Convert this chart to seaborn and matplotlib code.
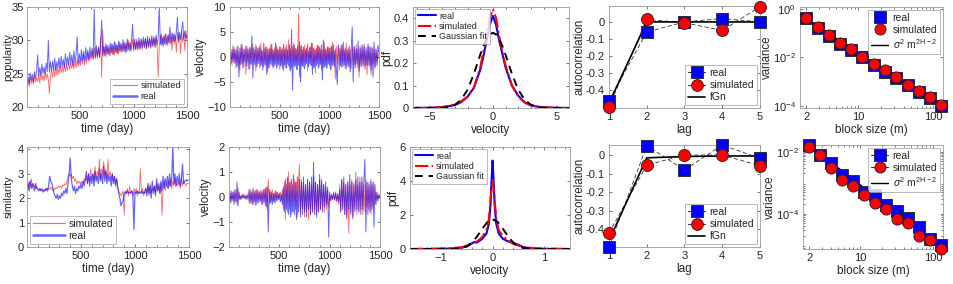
import numpy as np
import seaborn as sns
import matplotlib.pyplot as plt
from matplotlib.lines import Line2D
from matplotlib.ticker import AutoMinorLocator, LogLocator, NullFormatter

sns.set_style("ticks")
plt.rcParams['font.family'] = ['Liberation Sans', 'DejaVu Sans']
plt.rcParams['mathtext.fontset'] = 'custom'
plt.rcParams['mathtext.rm'] = 'Liberation Sans'
plt.rcParams['mathtext.it'] = 'Liberation Sans:italic'

# ---------------- data (one value every 10 days) ----------------
pop_real = [23.6, 24.6, 23.4, 25.1, 24.0, 24.9, 23.8, 25.3, 24.3, 25.4,
            27.8, 24.6, 25.9, 24.8, 26.4, 25.0, 26.0, 24.9, 26.6, 25.3,
            30.0, 25.2, 26.8, 25.4, 26.9, 25.6, 27.3, 25.5, 26.8, 25.9,
            27.4, 25.8, 27.6, 26.0, 27.2, 25.9, 28.0, 26.2, 27.5, 26.3,
            28.2, 26.4, 27.8, 26.2, 28.4, 26.6, 27.9, 30.5, 26.5, 28.0,
            26.8, 28.6, 27.0, 28.3, 26.9, 28.9, 27.2, 28.5, 27.1, 29.0,
            27.5, 28.8, 27.3, 34.7, 27.4, 29.2, 27.6, 28.9, 27.5, 29.4,
            33.0, 27.8, 29.1, 27.7, 29.5, 28.0, 29.2, 27.8, 29.6, 28.1,
            29.4, 27.9, 29.8, 28.2, 29.3, 28.0, 29.9, 28.4, 29.5, 28.3,
            30.1, 28.4, 29.6, 28.2, 30.2, 28.6, 29.7, 28.5, 30.0, 32.4,
            28.7, 30.2, 28.6, 29.9, 28.8, 30.4, 28.7, 30.1, 28.9, 30.5,
            29.0, 30.3, 28.8, 30.6, 29.1, 30.2, 29.0, 30.7, 29.2, 30.4,
            29.1, 30.8, 29.3, 30.5, 35.2, 29.4, 30.9, 29.3, 30.6, 29.5,
            31.0, 29.4, 30.8, 29.7, 32.0, 29.6, 31.1, 29.8, 30.9, 29.9,
            31.3, 33.5, 30.0, 31.2, 30.1, 31.6, 32.8, 30.2, 31.4, 30.3,
            30.8]
pop_sim = [23.3, 24.1, 23.1, 24.5, 23.5, 24.3, 23.4, 24.7, 23.7, 24.4,
           23.8, 24.9, 23.6, 25.2, 24.0, 24.8, 23.9, 25.3, 24.2, 25.0,
           24.1, 22.0, 24.6, 25.6, 24.4, 25.8, 24.6, 26.1, 24.8, 25.9,
           24.9, 26.3, 25.1, 26.0, 25.2, 26.5, 25.3, 26.2, 25.5, 26.7,
           25.6, 26.5, 25.8, 27.0, 25.7, 26.8, 25.9, 27.2, 26.1, 27.0,
           26.2, 27.5, 26.4, 27.8, 26.3, 27.6, 26.6, 28.2, 26.8, 28.0,
           27.0, 28.4, 27.1, 28.9, 27.3, 28.5, 27.2, 29.0, 27.4, 30.5,
           24.5, 31.5, 27.6, 29.1, 27.5, 29.3, 27.8, 28.9, 27.7, 29.5,
           27.9, 29.2, 27.8, 29.6, 28.1, 29.3, 28.0, 29.7, 28.2, 29.4,
           28.3, 29.8, 28.1, 29.5, 28.4, 30.0, 28.3, 29.6, 28.5, 30.1,
           28.4, 29.7, 28.6, 30.2, 28.5, 29.9, 28.7, 30.3, 28.6, 30.0,
           28.8, 30.4, 28.7, 30.1, 28.9, 30.5, 28.8, 30.2, 29.0, 30.6,
           28.9, 30.3, 29.1, 24.5, 29.0, 30.7, 29.2, 30.4, 29.1, 30.8,
           29.3, 30.5, 29.2, 30.9, 29.4, 30.6, 28.5, 31.0, 29.5, 30.7,
           28.2, 31.2, 29.6, 30.8, 28.0, 31.4, 29.7, 30.9, 28.4, 31.5,
           29.9]
vel_real_top = [0.6, -1.3, 1.5, -0.9, 1.9, -1.2, 1.4, -2.0, 2.2, -4.0,
                1.8, -1.5, 2.6, -2.2, 1.5, -1.0, 2.2, -1.8, 1.6, -2.4,
                2.0, -1.4, 4.2, -4.2, 1.8, -1.6, 2.4, -2.0, 1.7, -1.3,
                2.2, -1.8, 1.4, -2.6, 2.8, -1.5, 2.0, -3.5, 1.6, -2.2,
                1.8, -1.4, 2.5, -2.0, 1.3, -1.7, 2.8, -2.3, 1.6, -1.5,
                2.1, -1.9, 1.5, -2.4, 2.6, -1.6, 1.9, -2.2, 1.4, -1.8,
                2.4, -2.8, 5.5, -6.6, 2.6, -2.0, 1.7, -2.5, 2.2, -1.6,
                3.0, -5.0, 2.3, -1.8, 2.0, -2.4, 1.5, -1.3, 2.6, -2.0,
                1.9, -1.6, 2.8, -3.5, 1.8, -2.0, 1.4, -1.7, 2.3, -2.2,
                2.0, -1.5, 2.4, -4.6, 3.4, -2.0, 1.6, -2.2, 2.0, -1.4,
                1.8, -2.6, 2.2, -1.7, 2.5, -1.9, 1.6, -2.3, -5.5, 2.4,
                1.5, -1.8, 2.4, -2.0, 3.0, -1.6, 1.8, -2.4, 1.4, -1.9,
                2.2, -3.0, 1.7, 6.0, -5.0, 2.0, -2.2, 1.6, -1.4, 3.2,
                -2.8, 1.8, -2.0, 2.5, -1.6, 2.2, -2.4, 1.9, -1.7, 2.6,
                -1.8, 2.1, -2.6, 1.8, -4.0, 3.0, -2.2, 1.6, -1.8, 2.4,
                0.8]
vel_sim_top = [-0.7, 1.1, -1.7, 2.3, -1.3, 1.5, -2.2, 2.0, -1.6, 1.2,
               -2.6, 2.4, -1.4, 1.8, -2.0, 1.6, -3.5, 2.2, -1.0, 1.6,
               -2.4, 1.8, -1.6, 2.6, -1.2, 1.4, -2.8, 2.0, -1.4, 1.8,
               -2.2, 2.8, -1.6, 1.2, -2.0, 1.6, -1.8, 2.2, -3.0, 1.6,
               -2.0, 2.5, -1.7, 1.6, -2.2, 1.9, -1.5, 2.3, -1.8, 1.4,
               -2.4, 2.0, -1.6, 1.8, -2.8, 1.5, -2.2, 2.4, -1.3, 3.5,
               -2.6, 1.6, -2.2, 2.0, -1.5, 2.4, -1.8, 1.6, -2.6, 8.7,
               -4.0, 2.2, -1.8, 1.4, -2.0, 2.4, -1.6, 1.8, -2.8, 1.2,
               -1.4, 2.0, -1.8, 2.8, -2.2, 1.6, -3.2, 1.8, -1.4, 2.4,
               -2.0, 1.6, -2.6, 1.4, -2.2, 3.0, -1.8, 1.4, -2.2, 2.0,
               -1.6, 1.8, -2.4, 3.0, -1.6, 1.2, -4.4, 2.2, -1.4, 1.8,
               -2.6, 1.6, -2.0, 2.4, -1.8, 1.4, -2.2, 2.8, -1.6, 1.8,
               -2.0, 1.5, -2.4, 1.8, -1.6, 2.2, -1.4, 2.6, -2.2, 1.6,
               -4.0, 2.2, -1.6, 1.8, -2.0, 2.6, -1.8, 1.4, -3.6, 2.2,
               -1.6, 1.8, -3.6, 2.0, -1.4, 1.6, -2.0, 1.4, -1.2, 0.8,
               -0.4]
sim_real = [2.5, 2.6, 2.3, 2.7, 2.4, 2.6, 2.5, 2.3, 2.6, 2.4,
            2.35, 2.3, 2.4, 2.3, 2.35, 2.25, 2.35, 2.3, 2.4, 2.3,
            2.5, 2.9, 2.7, 2.6, 2.4, 2.2, 2.1, 2.0, 2.15, 1.95,
            2.1, 2.0, 2.2, 2.1, 2.3, 2.2, 2.4, 2.2, 2.6, 3.0,
            3.65, 2.8, 2.5, 2.3, 2.5, 2.2, 2.4, 2.3, 2.5, 2.4,
            2.6, 2.4, 2.7, 2.5, 2.8, 3.1, 2.6, 3.0, 2.5, 2.9,
            2.6, 3.0, 2.5, 3.1, 2.7, 2.9, 2.6, 3.2, 2.7, 3.0,
            2.6, 3.3, 2.7, 3.1, 2.6, 3.0, 2.7, 2.9, 2.5, 3.0,
            2.6, 2.9, 2.5, 2.8, 2.4, 2.2, 2.0, 1.7, 1.8, 1.9,
            2.2, 2.25, 2.2, 2.3, 2.2, 2.25, 2.2, 2.3, 2.2, 0.72,
            2.25, 2.2, 2.3, 2.2, 2.25, 2.2, 2.3, 2.2, 2.25, 2.2,
            2.4, 2.1, 2.6, 2.2, 2.5, 2.0, 2.7, 2.2, 2.5, 2.1,
            2.8, 2.3, 2.6, 2.2, 2.7, 2.3, 2.9, 2.4, 2.8, 2.5,
            2.9, 2.4, 3.0, 2.5, 2.8, 4.1, 2.6, 3.0, 2.5, 2.9,
            2.6, 3.0, 2.5, 2.8, 3.4, 2.6, 2.7, 2.75, 2.7, 2.75,
            2.75]
sim_sim = [2.6, 2.4, 2.7, 2.5, 2.8, 2.4, 2.6, 2.5, 2.4, 2.5,
           2.4, 2.35, 2.4, 2.3, 2.4, 2.35, 2.3, 2.4, 2.35, 2.4,
           2.4, 2.35, 2.45, 2.4, 2.3, 2.4, 2.35, 2.45, 2.4, 2.5,
           2.45, 2.5, 2.4, 2.55, 2.5, 2.6, 2.55, 2.7, 2.9, 3.0,
           2.9, 3.0, 2.8, 2.9, 2.7, 2.8, 2.6, 2.7, 2.6, 2.7,
           2.6, 2.7, 2.6, 2.8, 2.7, 2.9, 2.6, 3.0, 2.7, 3.2,
           2.8, 3.0, 2.7, 3.3, 2.8, 3.1, 2.9, 3.6, 2.8, 3.2,
           3.0, 3.5, 2.9, 3.2, 2.8, 3.6, 2.9, 3.1, 2.8, 3.0,
           2.7, 2.9, 2.6, 2.8, 2.5, 2.3, 2.2, 2.1, 2.2, 2.3,
           1.3, 2.3, 2.2, 2.4, 2.1, 2.5, 2.2, 2.3, 2.1, 2.4,
           2.2, 2.4, 2.1, 2.3, 2.2, 3.2, 2.2, 2.4, 2.1, 2.3,
           2.4, 2.2, 2.5, 2.1, 2.6, 2.2, 2.4, 2.3, 2.5, 2.2,
           2.6, 2.3, 2.5, 2.2, 2.6, 1.3, 2.4, 2.7, 2.3, 2.6,
           2.4, 2.7, 2.5, 2.8, 2.4, 2.7, 2.5, 2.8, 2.5, 2.6,
           2.5, 2.7, 2.4, 2.8, 2.5, 2.7, 2.6, 2.5, 2.6, 2.6,
           2.6]
vel_real_bot = [0.05, -0.2, 0.25, -0.15, 0.2, -0.3, 0.3, -0.2, 0.6, -0.35,
                0.2, -0.1, 0.05, -0.05, 0.1, -0.05, 0.05, -0.1, 0.1, -0.05,
                0.3, -0.25, 0.2, -0.3, 0.35, -0.2, 0.25, -0.3, 0.3, -0.25,
                0.2, -0.15, 0.25, -0.3, 0.3, -0.2, 0.35, -0.4, 0.4, -1.4,
                0.3, -0.25, 0.2, -0.3, 0.15, -0.2, 0.25, -0.15, 0.2, -0.1,
                0.15, -0.2, 0.1, -0.3, 0.4, -0.6, 0.7, -0.5, 0.8, -0.7,
                0.6, -0.8, 0.7, -0.6, 0.9, -0.7, 0.6, -0.9, 0.8, -0.6,
                0.7, -0.8, 0.6, -0.7, 0.8, -0.6, 0.5, -0.8, 0.7, -0.5,
                0.6, -0.7, 0.8, -0.6, 1.4, -0.7, 0.6, -0.8, 0.5, -0.6,
                0.9, -0.5, 0.7, -0.6, 0.5, -0.4, 0.6, -0.3, 0.4, -1.6,
                0.2, -0.15, 0.1, -0.1, 0.15, -0.1, 0.2, -0.15, 0.1, -0.2,
                0.3, -0.6, 0.7, -0.5, 0.8, -0.7, 0.5, -0.8, 0.6, -0.5,
                0.9, -0.7, 0.6, -0.8, 0.5, -0.6, 0.7, -0.5, 0.8, -0.6,
                0.6, -0.7, 0.8, -0.5, 0.7, 1.5, -1.4, 0.6, -0.7, 0.5,
                -0.6, 0.7, -0.5, 0.6, -1.2, 0.5, -0.3, 0.2, -0.15, 0.1,
                -0.05]
vel_sim_bot = [-0.1, 0.15, -0.25, 0.2, -0.15, 0.25, -0.2, 0.15, -0.3, 0.35,
               -0.1, 0.05, -0.1, 0.1, -0.05, 0.1, -0.05, 0.05, -0.1, 0.05,
               -0.25, 0.3, -0.2, 0.25, -0.3, 0.2, -0.35, 0.3, -0.2, 0.25,
               -0.2, 0.25, -0.3, 0.2, -0.25, 0.3, -0.35, 0.4, -0.5, 0.7,
               -0.3, 0.25, -0.2, 0.3, -0.2, 0.15, -0.25, 0.2, -0.15, 0.1,
               -0.1, 0.2, -0.15, 0.3, -0.5, 0.6, -0.9, 0.5, -0.6, 1.0,
               -0.5, 0.6, -0.7, 0.5, -0.6, 0.7, -0.5, 0.6, -0.8, 0.6,
               1.3, -0.6, 0.7, -0.5, 0.6, -0.8, 0.5, -0.6, 0.7, -0.9,
               0.6, -0.7, 0.5, -0.6, 0.8, -0.5, 0.6, -0.7, 0.5, -0.6,
               0.7, -0.5, 0.6, -0.4, 0.5, -0.6, 0.4, -0.5, 0.3, -0.4,
               0.1, -0.15, 0.1, -0.1, 0.2, -0.15, 0.1, -0.2, 0.15, -0.3,
               0.5, -0.6, 0.7, -0.5, 0.6, -0.7, 0.5, -0.9, 0.6, -1.45,
               0.5, -0.6, 0.7, -0.9, 0.6, -0.5, 1.0, -0.7, 0.5, -0.6,
               0.8, -0.5, 0.6, -0.7, 0.5, -0.6, 0.7, -0.4, 0.6, -0.5,
               0.6, -0.7, 0.5, -0.4, 0.6, -0.3, 0.2, -0.15, 0.1, -0.05,
               0.05]

# velocity pdfs
pdf_x_top = [-6.3, -5, -4, -3.5, -3, -2.5, -2, -1.5, -1, -0.75, -0.5, -0.25, 0, 0.25, 0.5, 0.75, 1, 1.5, 2,
             2.5, 3, 3.5, 4, 5, 6]
pdf_real_top = [0, 0.001, 0.004, 0.008, 0.013, 0.026, 0.05, 0.09, 0.17, 0.23, 0.30, 0.37, 0.41, 0.37, 0.30,
                0.24, 0.18, 0.10, 0.055, 0.025, 0.012, 0.006, 0.003, 0.001, 0]
pdf_sim_top = [0, 0.001, 0.004, 0.009, 0.016, 0.03, 0.05, 0.09, 0.18, 0.25, 0.32, 0.40, 0.44, 0.40, 0.32,
               0.25, 0.19, 0.10, 0.05, 0.025, 0.012, 0.006, 0.003, 0.001, 0]
pdf_gauss_top = [0, 0, 0.001, 0.005, 0.014, 0.037, 0.081, 0.152, 0.237, 0.276, 0.306, 0.328, 0.335, 0.328,
                 0.306, 0.276, 0.237, 0.152, 0.081, 0.037, 0.014, 0.005, 0.001, 0, 0]
pdf_x_bot = [-1.6, -1.0, -0.8, -0.6, -0.5, -0.42, -0.36, -0.3, -0.2, -0.12, -0.07, -0.04, -0.02, 0, 0.02, 0.04,
             0.07, 0.12, 0.2, 0.3, 0.4, 0.5, 0.6, 0.8, 1.0, 1.5]
pdf_real_bot = [0, 0.01, 0.03, 0.08, 0.15, 0.3, 0.4, 0.38, 0.6, 0.9, 1.5, 2.6, 4.0, 5.2, 4.0, 2.6, 1.5, 0.9,
                0.6, 0.45, 0.35, 0.25, 0.1, 0.03, 0.01, 0]
pdf_sim_bot = [0, 0.02, 0.05, 0.1, 0.2, 0.3, 0.35, 0.45, 0.7, 1.1, 1.8, 2.9, 3.6, 4.05, 3.6, 2.9, 1.8, 1.1,
               0.75, 0.5, 0.3, 0.2, 0.12, 0.05, 0.02, 0]
gauss_x_bot = [-1.6, -1.0, -0.8, -0.6, -0.5, -0.4, -0.3, -0.2, -0.1, 0, 0.1, 0.2, 0.3, 0.4, 0.5, 0.6, 0.8,
               1.0, 1.5]
pdf_gauss_bot = [0, 0, 0.002, 0.055, 0.16, 0.376, 0.74, 1.19, 1.59, 1.75, 1.59, 1.19, 0.74, 0.376, 0.16,
                 0.055, 0.002, 0, 0]

# autocorrelation
lags = [1, 2, 3, 4, 5]
acf_real_top = [-0.465, -0.06, 0.0, 0.02, 0.0]
acf_sim_top = [-0.50, 0.015, -0.005, -0.05, 0.09]
acf_fgn_top = [-0.48, 0.0, 0.0, 0.0, 0.0]
acf_real_bot = [-0.495, 0.05, -0.08, 0.054, -0.018]
acf_sim_bot = [-0.42, -0.054, 0.0, 0.0, -0.057]
acf_fgn_bot = [-0.46, -0.015, -0.008, -0.005, -0.005]

# aggregated variance
blocks = [2, 2.83, 4, 5.66, 8, 11.3, 16, 22.6, 32, 45.3, 64, 90.5, 128]
var_real_top = [0.43, 0.16, 0.076, 0.037, 0.021, 0.0102, 0.005, 0.0025, 0.0014, 7.2e-4, 4.0e-4, 2.1e-4, 1.05e-4]
var_sim_top = [0.43, 0.17, 0.081, 0.039, 0.022, 0.0105, 0.0055, 0.003, 0.00155, 7.6e-4, 4.3e-4, 2.5e-4, 1.1e-4]
fit_m_top = [1.65, 135]
fit_v_top = [0.54, 9.3e-5]
var_real_bot = [0.0162, 0.0078, 0.0043, 0.0018, 0.0011, 5.2e-4, 4.1e-4, 1.95e-4, 1.23e-4, 7.2e-5, 3.7e-5,
                1.6e-5, 1.0e-5]
var_sim_bot = [0.0145, 0.0078, 0.003, 0.00126, 7.6e-4, 4.1e-4, 2.3e-4, 1.4e-4, 6.8e-5, 5.0e-5, 1.95e-5,
               1.45e-5, 7.4e-6]
fit_m_bot = [2, 135]
fit_v_bot = [0.0158, 7.6e-6]

# ---------------- figure ----------------
W, H = 954, 284
fig = plt.figure(figsize=(W / 100, H / 100), dpi=100)


def add_ax(l, t, r, b):
    return fig.add_axes([l / W, 1 - b / H, (r - l) / W, (b - t) / H])


def style(ax, minor_x=True, minor_y=True, pad=3):
    for s in ax.spines.values():
        s.set_color('#9a9a9a')
        s.set_linewidth(0.6)
    ax.tick_params(which='both', direction='in', top=True, right=True, width=0.5,
                   color='#444444', labelsize=8, labelcolor='#262626', pad=3)
    ax.tick_params(axis='y', pad=pad)
    ax.tick_params(which='major', length=2.5)
    ax.tick_params(which='minor', length=1.5)
    if minor_x:
        ax.xaxis.set_minor_locator(AutoMinorLocator(5))
    if minor_y:
        ax.yaxis.set_minor_locator(AutoMinorLocator(5))
    ax.xaxis.label.set_size(8.5)
    ax.yaxis.label.set_size(8.3)
    ax.xaxis.labelpad = 1
    ax.yaxis.labelpad = 0


def legend(ax, handles, labels, loc, size, **kw):
    opts = dict(loc=loc, fontsize=size, frameon=True, fancybox=False, borderpad=0.3,
                labelspacing=0.2, handletextpad=0.4, borderaxespad=0.3)
    opts.update(kw)
    lg = ax.legend(handles, labels, **opts)
    lg.get_frame().set_edgecolor('#9a9a9a')
    lg.get_frame().set_linewidth(0.6)
    return lg


RED, BLUE = '#ff0000', '#0000ff'


def timeseries(ax, sim, real, lw_r=0.6, lw_b=0.7):
    d_sim = np.linspace(1, 1500, len(sim))
    d_real = np.linspace(1, 1500, len(real))
    sns.lineplot(x=d_sim, y=sim, ax=ax, color=RED, lw=lw_r, alpha=0.6, estimator=None, sort=False)
    sns.lineplot(x=d_real, y=real, ax=ax, color=BLUE, lw=lw_b, alpha=0.6, estimator=None, sort=False)
    ax.set_xlim(1, 1500)
    ax.set_xticks([500, 1000, 1500])
    ax.set_xlabel('time (day)')


ts_handles = [Line2D([], [], color=RED, lw=0.8, alpha=0.6), Line2D([], [], color=BLUE, lw=1.8, alpha=0.6)]

# panel 1: popularity
ax = add_ax(27, 7, 187, 107)
timeseries(ax, pop_sim, pop_real)
ax.set_ylim(20, 35)
ax.set_yticks([20, 25, 30, 35])
ax.set_ylabel('popularity')
style(ax, minor_y=False, pad=2)
ax.yaxis.label.set_size(7.8)
ax.yaxis.set_label_coords(-0.084, 0.5)
legend(ax, ts_handles, ['simulated', 'real'], 'lower right', 6.8, handlelength=2.5)

# panel 2: velocity
ax = add_ax(230, 7, 379, 107)
timeseries(ax, vel_sim_top, vel_real_top)
ax.set_ylim(-10, 10)
ax.set_yticks([-10, -5, 0, 5, 10])
ax.set_ylabel('velocity')
style(ax, minor_y=False)

# panel 6: similarity
ax = add_ax(27, 147, 189, 247)
timeseries(ax, sim_sim, sim_real, lw_b=0.9)
ax.set_ylim(0, 4.1)
ax.set_yticks([0, 1, 2, 3, 4])
ax.set_ylabel('similarity')
style(ax, minor_y=False, pad=2)
ax.yaxis.label.set_size(7.8)
ax.yaxis.set_label_coords(-0.083, 0.5)
legend(ax, ts_handles, ['simulated', 'real'], 'lower left', 7.5, handlelength=3)

# panel 7: velocity
ax = add_ax(229, 147, 380, 247)
timeseries(ax, vel_sim_bot, vel_real_bot)
ax.set_ylim(-2, 2)
ax.set_yticks([-2, -1, 0, 1, 2])
ax.set_ylabel('velocity')
style(ax, minor_y=False)


# pdf panels
def pdf_panel(ax, x, real, sim, gx, gauss):
    sns.lineplot(x=x, y=real, ax=ax, color=BLUE, lw=1.5, estimator=None, sort=False)
    sns.lineplot(x=x, y=sim, ax=ax, color=RED, lw=1.5, ls='-.', estimator=None, sort=False)
    sns.lineplot(x=gx, y=gauss, ax=ax, color='black', lw=1.4, ls=(0, (4, 3)), estimator=None, sort=False)
    ax.set_xlabel('velocity')
    ax.set_ylabel('pdf')
    hs = [Line2D([], [], color=BLUE, lw=1.5), Line2D([], [], color=RED, lw=1.5, ls='-.'),
          Line2D([], [], color='black', lw=1.4, ls=(0, (4, 3)))]
    legend(ax, hs, ['real', 'simulated', 'Gaussian fit'], 'upper left', 6.5, handlelength=2.0,
           borderaxespad=0.2, labelspacing=0.15)


ax = add_ax(413, 7, 569, 108)
pdf_panel(ax, pdf_x_top, pdf_real_top, pdf_sim_top, pdf_x_top, pdf_gauss_top)
ax.set_xlim(-6.3, 6)
ax.set_xticks([-5, 0, 5])
ax.set_ylim(0, 0.45)
ax.set_yticks([0, 0.1, 0.2, 0.3, 0.4])
ax.set_yticklabels(['0', '0.1', '0.2', '0.3', '0.4'])
style(ax, minor_y=False)

ax = add_ax(410, 147, 570, 249)
pdf_panel(ax, pdf_x_bot, pdf_real_bot, pdf_sim_bot, gauss_x_bot, pdf_gauss_bot)
ax.set_xlim(-1.6, 1.5)
ax.set_xticks([-1, 0, 1])
ax.set_ylim(0, 6)
ax.set_yticks([0, 2, 4, 6])
style(ax, minor_y=False)


# autocorrelation panels
def acf_panel(ax, real, sim, fgn, ylim):
    sns.lineplot(x=lags, y=real, ax=ax, color='#333333', lw=0.6, ls=(0, (5, 3)), estimator=None)
    sns.lineplot(x=lags, y=sim, ax=ax, color='#333333', lw=0.6, ls=(0, (5, 3)), estimator=None)
    sns.lineplot(x=lags, y=fgn, ax=ax, color='black', lw=1.2, estimator=None)
    sns.scatterplot(x=lags, y=real, ax=ax, marker='s', s=75, color=BLUE, edgecolor='#222222',
                    linewidth=0.6, clip_on=False, zorder=5)
    sns.scatterplot(x=lags, y=sim, ax=ax, marker='o', s=75, color=RED, edgecolor='#222222',
                    linewidth=0.6, clip_on=False, zorder=6)
    ax.set_xlim(1, 5)
    ax.set_xticks(lags)
    ax.set_ylim(*ylim)
    ax.set_yticks([-0.4, -0.3, -0.2, -0.1, 0])
    ax.set_yticklabels(['-0.4', '-0.3', '-0.2', '-0.1', '0'])
    ax.set_xlabel('lag')
    ax.set_ylabel('autocorrelation')
    style(ax, minor_x=False, minor_y=False)
    hs = [Line2D([], [], color='#333333', lw=0.8, marker='s', ms=8.5, mfc=BLUE, mec='#222222', mew=0.6),
          Line2D([], [], color='#333333', lw=0.8, marker='o', ms=8.5, mfc=RED, mec='#222222', mew=0.6),
          Line2D([], [], color='black', lw=1.2)]
    legend(ax, hs, ['real', 'simulated', 'fGn'], 'lower right', 7.5, handlelength=1.7,
           borderaxespad=0.25)


ax = add_ax(609, 6, 760, 108)
acf_panel(ax, acf_real_top, acf_sim_top, acf_fgn_top, (-0.508, 0.094))
ax = add_ax(609, 145, 760, 247)
acf_panel(ax, acf_real_bot, acf_sim_bot, acf_fgn_bot, (-0.495, 0.054))


# variance panels
def var_panel(ax, real, sim, fm, fv, ylim, yticks):
    sns.lineplot(x=fm, y=fv, ax=ax, color='black', lw=1.0, estimator=None)
    sns.scatterplot(x=blocks, y=real, ax=ax, marker='s', s=65, color=BLUE, edgecolor='#222222',
                    linewidth=0.6, clip_on=False, zorder=5)
    sns.scatterplot(x=blocks, y=sim, ax=ax, marker='o', s=65, color=RED, edgecolor='#222222',
                    linewidth=0.6, clip_on=False, zorder=6)
    ax.set_xscale('log')
    ax.set_yscale('log')
    ax.set_xlim(1.65, 135)
    ax.set_ylim(*ylim)
    ax.set_xticks([2, 10, 100])
    ax.set_xticklabels(['2', '10', '100'])
    ax.xaxis.set_minor_locator(LogLocator(base=10, subs=np.arange(2, 10)))
    ax.xaxis.set_minor_formatter(NullFormatter())
    ax.set_yticks(yticks)
    ax.set_yticklabels([r'$10^{%d}$' % int(np.log10(t)) for t in yticks])
    ax.yaxis.set_minor_locator(LogLocator(base=10, subs=np.arange(2, 10)))
    ax.yaxis.set_minor_formatter(NullFormatter())
    ax.set_xlabel('block size (m)')
    ax.set_ylabel('variance')
    style(ax, minor_x=False, minor_y=False)


fit_label = r'$\sigma^2$ m$^{\rm 2H-2}$'

ax = add_ax(800, 7, 943, 108)
var_panel(ax, var_real_top, var_sim_top, fit_m_top, fit_v_top, (8.5e-5, 1.17), [1, 1e-2, 1e-4])
hs = [Line2D([], [], ls='none', marker='s', ms=8, mfc=BLUE, mec='#222222', mew=0.6),
      Line2D([], [], ls='none', marker='o', ms=8, mfc=RED, mec='#222222', mew=0.6),
      Line2D([], [], color='black', lw=1.0)]
legend(ax, hs, ['real', 'simulated', fit_label], 'upper right', 7.5, handlelength=1.7,
       borderaxespad=0.25)

ax = add_ax(803, 145, 943, 249)
var_panel(ax, var_real_bot, var_sim_bot, fit_m_bot, fit_v_bot, (7.4e-6, 0.0163), [1e-2, 1e-4])
hs = [Line2D([], [], color='#333333', lw=0.8, marker='s', ms=8, mfc=BLUE, mec='#222222', mew=0.6),
      Line2D([], [], color='#333333', lw=0.8, marker='o', ms=8, mfc=RED, mec='#222222', mew=0.6),
      Line2D([], [], color='black', lw=1.0)]
legend(ax, hs, ['real', 'simulated', fit_label], 'upper right', 7.5, handlelength=1.7,
       borderaxespad=0.25)

fig.savefig('out.png', dpi=100)
